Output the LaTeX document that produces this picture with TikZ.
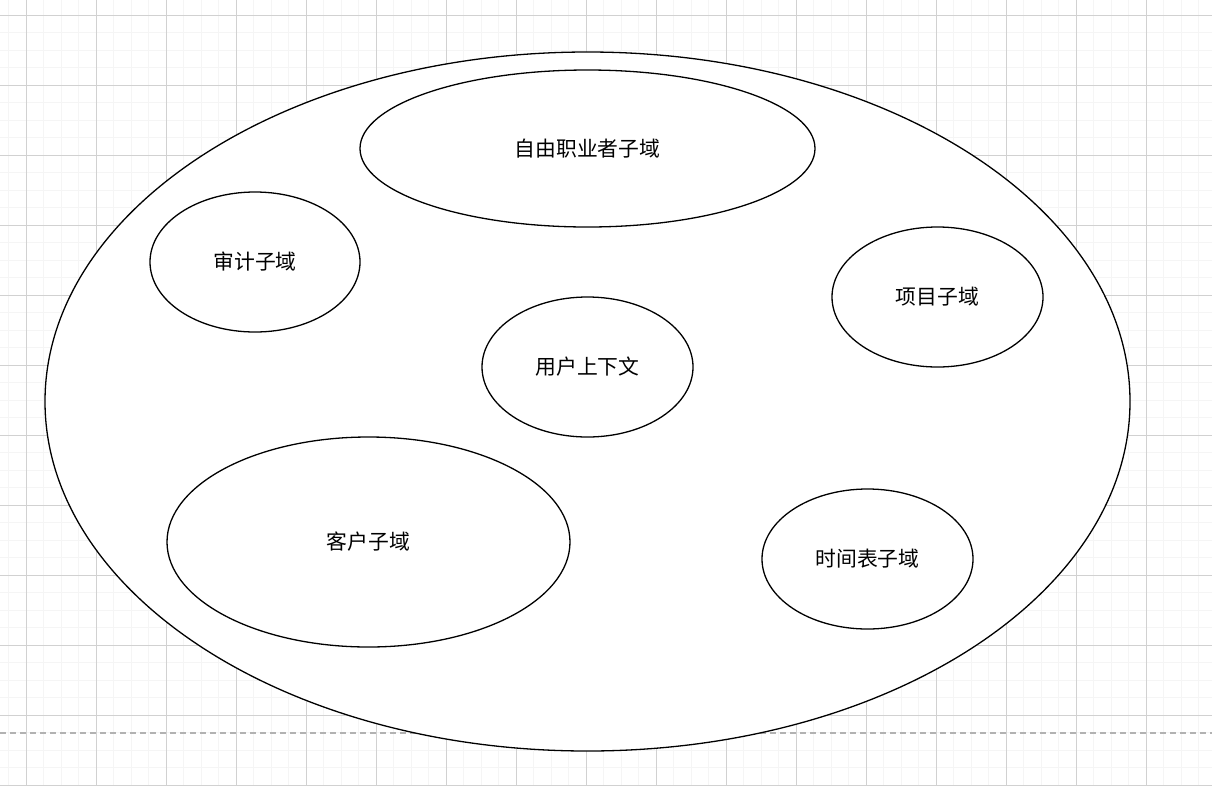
\documentclass[tikz,border=0pt]{standalone}
\usepackage{fontspec}
\newfontfamily\cjk{Noto Sans CJK SC}
\usetikzlibrary{shapes.geometric}
\begin{document}
\begin{tikzpicture}[x=1pt,y=-1pt,
  minorgrid/.style={draw=black!4,line width=0.9pt},
  majorgrid/.style={draw=black!18,line width=0.9pt},
  pagebreak/.style={draw=black!30,line width=1.2pt,dash pattern=on 6pt off 4pt},
  subdom/.style={ellipse,draw=black,line width=1.3pt,fill=white,inner sep=0pt,
    font=\cjk\fontsize{20.8}{24}\selectfont},
  outerdom/.style={ellipse,draw=black,line width=1.3pt,fill=white,inner sep=0pt}]
\useasboundingbox (0,0) rectangle (1212,785);
\fill[white] (0,0) rectangle (1212,785);
% grid
\foreach \i in {0,...,70} {
  \pgfmathsetmacro\xx{8.5+17.5*\i}
  \ifdim\xx pt<1212pt \draw[minorgrid] (\xx,0) -- (\xx,785);\fi
}
\foreach \i in {0,...,45} {
  \pgfmathsetmacro\yy{-2.5+17.5*\i}
  \ifdim\yy pt<785pt \ifdim\yy pt>0pt \draw[minorgrid] (0,\yy) -- (1212,\yy);\fi\fi
}
\foreach \i in {0,...,17} {
  \pgfmathsetmacro\xx{26+70*\i}
  \draw[majorgrid] (\xx,0) -- (\xx,785);
}
\foreach \i in {0,...,11} {
  \pgfmathsetmacro\yy{15+70*\i}
  \draw[majorgrid] (0,\yy) -- (1212,\yy);
}
\draw[pagebreak] (0,733) -- (1212,733);
% outer domain
\node[outerdom,minimum width=1085pt,minimum height=699pt] (core) at (587.5,401.5) {};
% subdomains
\node[subdom,minimum width=455pt,minimum height=157pt] (free) at (587.5,148.5) {自由职业者子域};
\node[subdom,minimum width=210pt,minimum height=140pt] (audit) at (255,262) {审计子域};
\node[subdom,minimum width=211pt,minimum height=140pt] (proj) at (937.5,297) {项目子域};
\node[subdom,minimum width=211pt,minimum height=140pt] (user) at (587.5,367) {用户上下文};
\node[subdom,minimum width=403pt,minimum height=210pt] (client) at (368.5,542) {客户子域};
\node[subdom,minimum width=211pt,minimum height=140pt] (time) at (867.5,559) {时间表子域};
\end{tikzpicture}
\end{document}
